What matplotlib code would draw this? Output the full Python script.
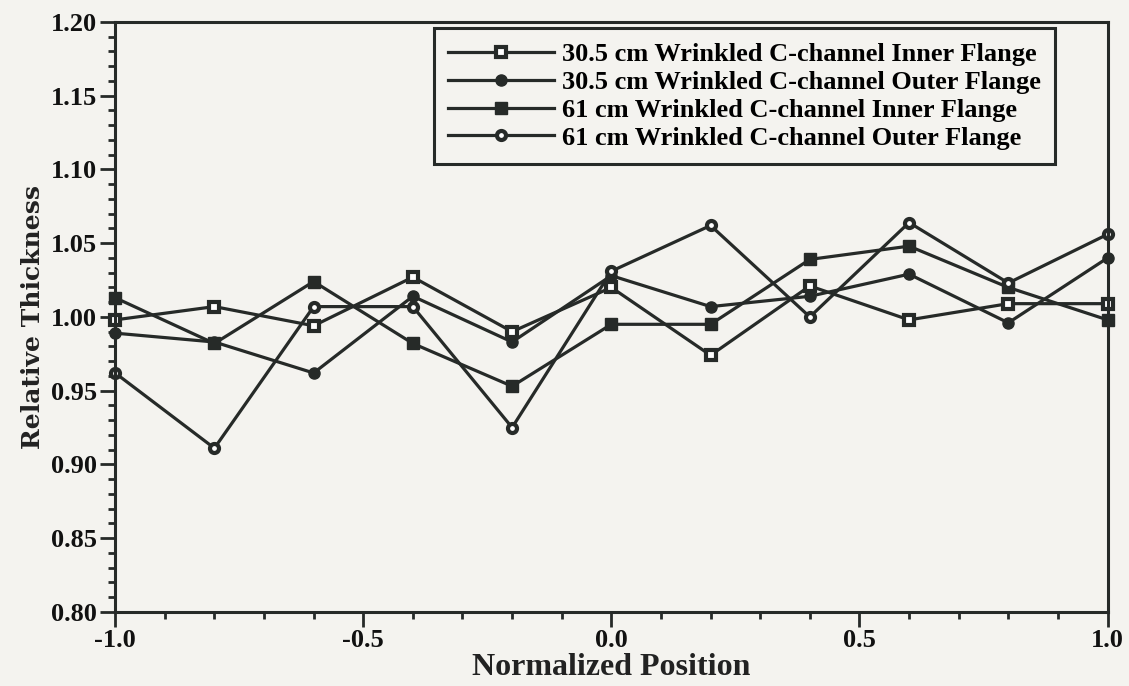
import matplotlib
matplotlib.use("Agg")
import matplotlib.pyplot as plt
from matplotlib.ticker import MultipleLocator

# Relative thickness along the flange, normalized position -1 .. 1
position = [-1.0, -0.8, -0.6, -0.4, -0.2, 0.0, 0.2, 0.4, 0.6, 0.8, 1.0]

inner_305 = [0.998, 1.007, 0.994, 1.027, 0.990, 1.020, 0.974, 1.021, 0.998, 1.009, 1.009]
outer_305 = [0.989, 0.983, 0.962, 1.014, 0.983, 1.028, 1.007, 1.014, 1.029, 0.996, 1.040]
inner_61 = [1.013, 0.982, 1.024, 0.982, 0.953, 0.995, 0.995, 1.039, 1.048, 1.020, 0.998]
outer_61 = [0.962, 0.911, 1.007, 1.007, 0.925, 1.031, 1.062, 1.000, 1.064, 1.023, 1.056]

labels = ["30.5 cm Wrinkled C-channel Inner Flange",
          "30.5 cm Wrinkled C-channel Outer Flange",
          "61 cm Wrinkled C-channel Inner Flange",
          "61 cm Wrinkled C-channel Outer Flange"]

paper = "#f4f3ef"
ink = "#262a28"

fig = plt.figure(figsize=(11.29, 6.86), dpi=100, facecolor=paper)
ax = fig.add_axes([0.102, 0.108, 0.879, 0.860], facecolor=paper)

style = dict(color=ink, lw=2.3, clip_on=False)
ax.plot(position, inner_305, marker="s", ms=7, mfc="white", mec=ink, mew=3,
        label=labels[0], **style)
ax.plot(position, outer_305, marker="o", ms=8, mfc=ink, mec=ink,
        label=labels[1], **style)
ax.plot(position, inner_61, marker="s", ms=9, mfc=ink, mec=ink,
        label=labels[2], **style)
ax.plot(position, outer_61, marker="o", ms=6.5, mfc="white", mec=ink, mew=3,
        label=labels[3], **style)

ax.set_xlim(-1.0, 1.0)
ax.set_ylim(0.80, 1.20)
ax.xaxis.set_major_locator(MultipleLocator(0.5))
ax.xaxis.set_minor_locator(MultipleLocator(0.1))
ax.yaxis.set_major_locator(MultipleLocator(0.05))
ax.yaxis.set_minor_locator(MultipleLocator(0.01))
ax.xaxis.set_major_formatter(lambda v, p: f"{v:.1f}")
ax.yaxis.set_major_formatter(lambda v, p: f"{v:.2f}")

for s in ax.spines.values():
    s.set_linewidth(2.2)
    s.set_color(ink)
ax.tick_params(which="major", length=11, width=2, color=ink, direction="out")
ax.tick_params(which="minor", length=5, width=2, color=ink, direction="out")
ax.tick_params(axis="x", which="major", pad=1)
ax.tick_params(axis="y", which="major", pad=2)

for t in ax.get_xticklabels() + ax.get_yticklabels():
    t.set_fontfamily("Liberation Serif")
    t.set_fontweight("bold")
    t.set_fontsize(19)
    t.set_color("#111111")

ax.set_ylabel("Relative Thickness", family="DejaVu Serif", weight="bold",
              fontsize=18, color="#222222", labelpad=4)
ax.set_xlabel("Normalized Position", family="Liberation Serif", weight="bold",
              fontsize=23, color="#222222", labelpad=1)

leg = ax.legend(loc="upper right", bbox_to_anchor=(0.947, 0.99),
                prop=dict(family="Liberation Serif", weight="bold", size=19),
                handlelength=4.0, handletextpad=0.3, labelspacing=0.17,
                borderpad=0.55, borderaxespad=0.0, fancybox=False,
                framealpha=1.0, facecolor=paper, edgecolor=ink)
leg.get_frame().set_linewidth(2.2)

fig.savefig("out.png", dpi=100, facecolor=paper)
